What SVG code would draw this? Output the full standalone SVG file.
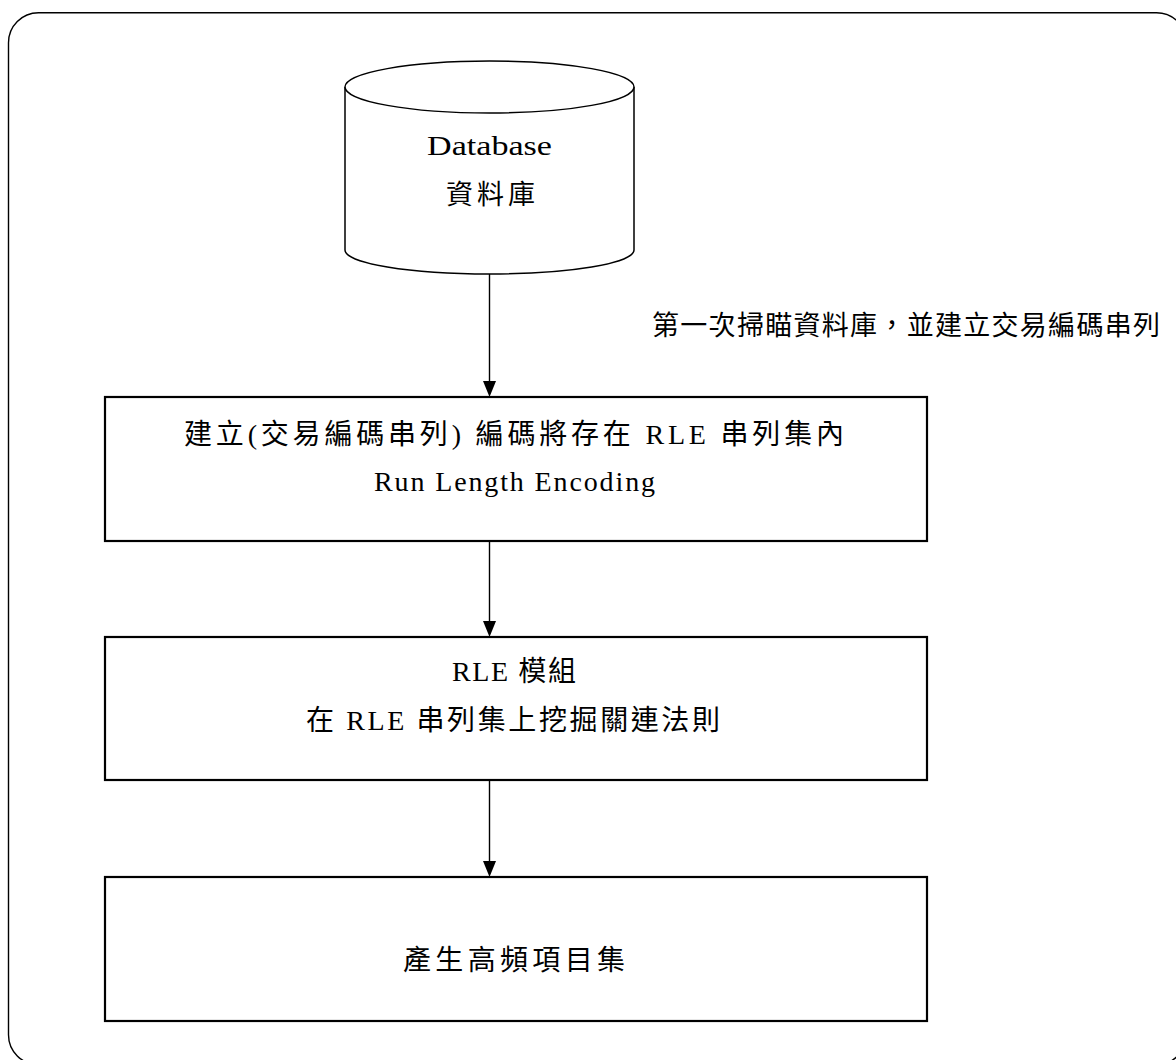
<svg xmlns="http://www.w3.org/2000/svg" width="1176" height="1060" viewBox="0 0 1176 1060">
<defs>
<style>
.frame{fill:none;stroke:#000;stroke-width:1.4}
.box{fill:#fff;stroke:#000;stroke-width:2.2}
.cyl{fill:#fff;stroke:#000;stroke-width:1.5}
.edge{fill:none;stroke:#000;stroke-width:1.4}
.head{fill:#000}
.t{font-family:"Liberation Serif","Noto Sans CJK TC",serif;font-size:28px;fill:#000}
.cj{font-family:"Noto Sans CJK TC",sans-serif;font-size:27px;fill:#000}
</style>
</defs>
<rect width="1176" height="1060" fill="#fff"/>
<rect class="frame" x="8.5" y="12.7" width="1178" height="1052" rx="30" ry="30"/>

<g id="connectors">
<line class="edge" x1="489.5" y1="274" x2="489.5" y2="382"/>
<path class="head" d="M483,381 L496,381 L489.5,397 Z"/>
<line class="edge" x1="489.5" y1="541" x2="489.5" y2="622"/>
<path class="head" d="M483,621 L496,621 L489.5,637 Z"/>
<line class="edge" x1="489.5" y1="780" x2="489.5" y2="862"/>
<path class="head" d="M483,861 L496,861 L489.5,877 Z"/>
<text class="cj" x="652" y="335" textLength="508" lengthAdjust="spacing">第一次掃瞄資料庫，並建立交易編碼串列</text>
</g>

<g id="database">
<path class="cyl" d="M345,87 L345,250 A144.5,24 0 0 0 634,250 L634,87"/>
<ellipse class="cyl" cx="489.5" cy="87" rx="144.5" ry="26"/>
<text class="t" x="427" y="155" textLength="125" lengthAdjust="spacingAndGlyphs" font-size="30">Database</text>
<text class="cj" x="446" y="204" textLength="89" lengthAdjust="spacing">資料庫</text>
</g>

<g id="encode">
<rect class="box" x="105" y="397" width="822" height="144"/>
<text class="t" x="184" y="444" textLength="660" lengthAdjust="spacing">建立(交易編碼串列) 編碼將存在 RLE 串列集內</text>
<text class="t" x="374" y="491" textLength="281" lengthAdjust="spacing" font-size="25">Run Length Encoding</text>
</g>

<g id="rle">
<rect class="box" x="105" y="637" width="822" height="143"/>
<text class="t" x="452" y="681" textLength="124" lengthAdjust="spacing">RLE 模組</text>
<text class="t" x="306" y="730" textLength="414" lengthAdjust="spacing">在 RLE 串列集上挖掘關連法則</text>
</g>

<g id="frequent">
<rect class="box" x="105" y="877" width="822" height="144"/>
<text class="t" x="403" y="970" textLength="222" lengthAdjust="spacing">產生高頻項目集</text>
</g>
</svg>
